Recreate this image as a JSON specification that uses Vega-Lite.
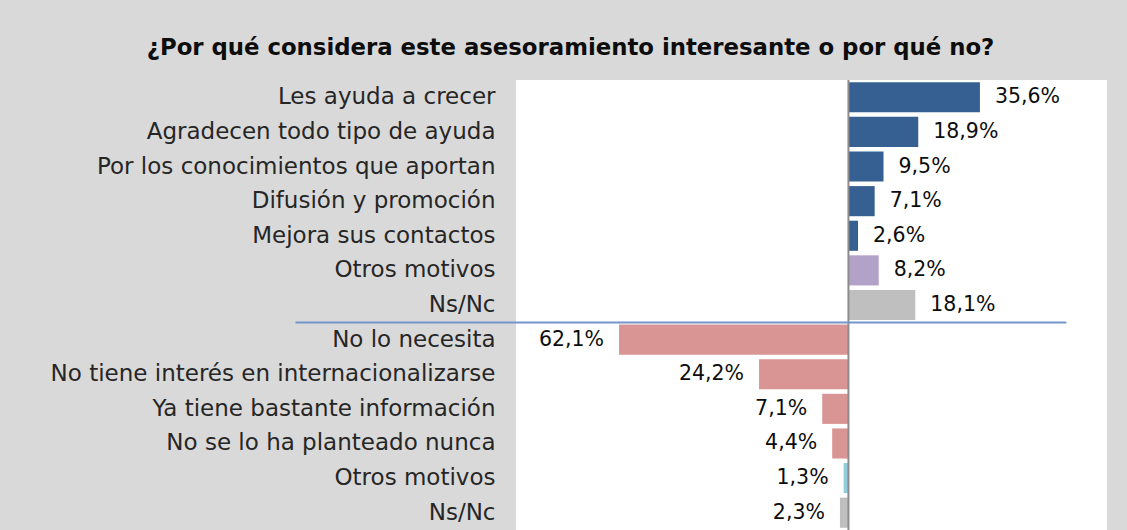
{
  "$schema": "https://vega.github.io/schema/vega-lite/v6.json",
  "autosize": {"type": "none"},
  "width": 591,
  "height": 450,
  "padding": {"left": 516, "top": 80, "right": 20, "bottom": 0},
  "background": "#d9d9d9",
  "title": {
    "text": "¿Por qué considera este asesoramiento interesante o por qué no?",
    "font": "DejaVu Sans",
    "fontSize": 22.8,
    "fontWeight": "bold",
    "color": "#0d0d0d",
    "anchor": "middle",
    "dx": -241,
    "offset": 19
  },
  "config": {
    "view": {"fill": "white", "stroke": null},
    "locale": {"number": {"decimal": ",", "thousands": ".", "grouping": [3], "currency": ["", " €"]}}
  },
  "data": {
    "values": [
      {"motivo": "Les ayuda a crecer", "valor": 0.356, "grupo": "Sí"},
      {"motivo": "Agradecen todo tipo de ayuda", "valor": 0.189, "grupo": "Sí"},
      {"motivo": "Por los conocimientos que aportan", "valor": 0.095, "grupo": "Sí"},
      {"motivo": "Difusión y promoción", "valor": 0.071, "grupo": "Sí"},
      {"motivo": "Mejora sus contactos", "valor": 0.026, "grupo": "Sí"},
      {"motivo": "Otros motivos", "valor": 0.082, "grupo": "Otros (sí)"},
      {"motivo": "Ns/Nc", "valor": 0.181, "grupo": "Ns/Nc"},
      {"motivo": "No lo necesita", "valor": -0.621, "grupo": "No"},
      {"motivo": "No tiene interés en internacionalizarse", "valor": -0.242, "grupo": "No"},
      {"motivo": "Ya tiene bastante información", "valor": -0.071, "grupo": "No"},
      {"motivo": "No se lo ha planteado nunca", "valor": -0.044, "grupo": "No"},
      {"motivo": " Otros motivos", "valor": -0.013, "grupo": "Otros (no)"},
      {"motivo": " Ns/Nc", "valor": -0.023, "grupo": "Ns/Nc"}
    ]
  },
  "layer": [
    {
      "mark": {"type": "bar"},
      "encoding": {
        "y": {
          "field": "motivo",
          "type": "nominal",
          "sort": null,
          "scale": {"paddingInner": 0.13, "paddingOuter": 0.065},
          "axis": {
            "title": null,
            "domain": false,
            "ticks": false,
            "labelFont": "DejaVu Sans",
            "labelFontSize": 23,
            "labelColor": "#262626",
            "labelPadding": 21,
            "labelLimit": 0
          }
        },
        "x": {"field": "valor", "type": "quantitative", "scale": {"domain": [-0.9, 0.7], "nice": false, "zero": false}, "axis": null},
        "color": {
          "field": "grupo",
          "type": "nominal",
          "scale": {
            "domain": ["Sí", "Otros (sí)", "Ns/Nc", "No", "Otros (no)"],
            "range": ["#376092", "#b3a2c7", "#bfbfbf", "#d99594", "#92cddc"]
          },
          "legend": null
        }
      }
    },
    {
      "transform": [{"filter": "datum.valor > 0"}, {"calculate": "abs(datum.valor)", "as": "pct"}],
      "mark": {"type": "text", "align": "left", "dx": 15, "font": "DejaVu Sans", "fontSize": 20.5, "color": "#0d0d0d"},
      "encoding": {
        "y": {"field": "motivo", "type": "nominal", "sort": null},
        "x": {"field": "valor", "type": "quantitative"},
        "text": {"field": "pct", "type": "quantitative", "format": ".1%"}
      }
    },
    {
      "transform": [{"filter": "datum.valor < 0"}, {"calculate": "abs(datum.valor)", "as": "pct"}],
      "mark": {"type": "text", "align": "right", "dx": -15, "font": "DejaVu Sans", "fontSize": 20.5, "color": "#0d0d0d"},
      "encoding": {
        "y": {"field": "motivo", "type": "nominal", "sort": null},
        "x": {"field": "valor", "type": "quantitative"},
        "text": {"field": "pct", "type": "quantitative", "format": ".1%"}
      }
    },
    {
      "data": {"values": [{}]},
      "mark": {"type": "rule", "color": "#8c8c8c", "strokeWidth": 2},
      "encoding": {"x": {"datum": 0}}
    },
    {
      "data": {"values": [{}]},
      "mark": {"type": "rule", "color": "#7396c9", "strokeWidth": 2, "yOffset": -2},
      "encoding": {
        "x": {"datum": -1.497},
        "x2": {"datum": 0.59},
        "y": {"datum": "No lo necesita", "bandPosition": 0}
      }
    }
  ]
}
